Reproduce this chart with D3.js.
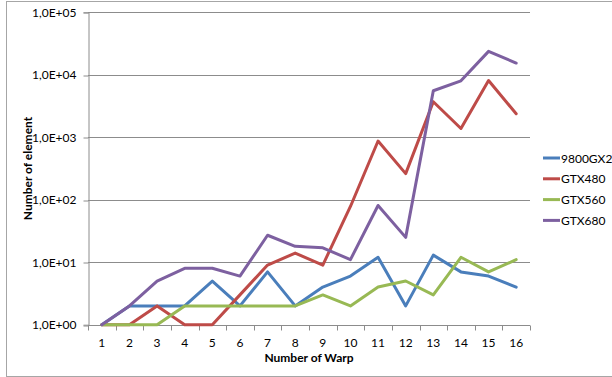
<!DOCTYPE html>
<html>
<head>
<meta charset="utf-8">
<script src="https://cdn.jsdelivr.net/npm/d3@7"></script>
<style>
  html, body { margin: 0; padding: 0; background: #fff; }
  svg { display: block; }
  text { font-family: Lato, "Open Sans", sans-serif; fill: #000; }
</style>
</head>
<body>
<svg id="chart" width="612" height="377"></svg>
<script>
// Warp counts on the x axis
const warps = [1, 2, 3, 4, 5, 6, 7, 8, 9, 10, 11, 12, 13, 14, 15, 16];

// Number of elements per GPU
const gpuNames = ["9800GX2", "GTX480", "GTX560", "GTX680"];
const s9800GX2 = [1, 2, 2, 2, 5, 2, 7, 2, 4, 6, 12, 2, 13, 7, 6, 4];
const sGTX480  = [1, 1, 2, 1, 1, 3, 9, 14, 9, 78, 870, 262, 3700, 1380, 8100, 2380];
const sGTX560  = [1, 1, 1, 2, 2, 2, 2, 2, 3, 2, 4, 5, 3, 12, 7, 11];
const sGTX680  = [1, 2, 5, 8, 8, 6, 27, 18, 17, 11, 81, 25, 5550, 8000, 23700, 15400];
const gpuColors = ["#4A7EBB", "#BE4B48", "#98B954", "#7D60A0"];

// Decade ticks of the log axis
const yTicks = [1, 10, 100, 1000, 10000, 100000];

const seriesList = [s9800GX2, sGTX480, sGTX560, sGTX680].map((vals, i) => ({
  name: gpuNames[i], color: gpuColors[i], values: vals
}));

const svg = d3.select("#chart");
const plot = { left: 88, right: 530, top: 12.3, bottom: 324.7 };

// Chart-area frame
svg.append("rect")
  .attr("x", 6.5).attr("y", 1.5)
  .attr("width", 700).attr("height", 375)
  .attr("fill", "none").attr("stroke", "#a6a6a6").attr("stroke-width", 1);

const x = d3.scaleBand().domain(warps).range([plot.left, plot.right]).padding(0);
const y = d3.scaleLog().domain([1, 1e5]).range([plot.bottom, plot.top]);

const fmt = v => "1,0E+" + String(Math.round(Math.log10(v))).padStart(2, "0");

// Horizontal gridlines
svg.append("g")
  .selectAll("line")
  .data(yTicks.slice(1))
  .join("line")
  .attr("x1", plot.left).attr("x2", plot.right)
  .attr("y1", d => Math.round(y(d)) + 0.5).attr("y2", d => Math.round(y(d)) + 0.5)
  .attr("stroke", "#8c8c8c").attr("stroke-width", 1);

// Y axis
const yAxis = svg.append("g")
  .attr("transform", `translate(${plot.left + 0.5},0)`)
  .call(d3.axisLeft(y).tickValues(yTicks).tickFormat(fmt).tickSize(5).tickPadding(7));
yAxis.select(".domain").attr("stroke", "#8c8c8c");
yAxis.selectAll(".tick line").attr("stroke", "#8c8c8c")
  .attr("transform", d => `translate(0,${Math.round(y(d)) + 0.5 - y(d)})`);
yAxis.selectAll(".tick text")
  .style("font-family", "Lato, 'Open Sans', sans-serif").style("font-size", "12px").attr("fill", "#000");

// X axis with ticks at the category boundaries
const xAxisG = svg.append("g")
  .attr("transform", `translate(0,${Math.round(plot.bottom) + 0.5})`);
xAxisG.append("line")
  .attr("x1", plot.left).attr("x2", plot.right)
  .attr("stroke", "#8c8c8c");
const boundaries = warps.map(w => x(w)).concat([plot.right]);
xAxisG.selectAll("line.tk")
  .data(boundaries)
  .join("line").attr("class", "tk")
  .attr("x1", d => Math.round(d) + 0.5).attr("x2", d => Math.round(d) + 0.5)
  .attr("y1", 0).attr("y2", 5)
  .attr("stroke", "#8c8c8c");
xAxisG.selectAll("text")
  .data(warps)
  .join("text")
  .attr("x", d => x(d) + x.bandwidth() / 2)
  .attr("y", 21)
  .attr("text-anchor", "middle")
  .style("font-size", "12px")
  .text(d => d);

// Series lines
const line = d3.line()
  .x((d, i) => x(warps[i]) + x.bandwidth() / 2)
  .y(d => y(d));

svg.append("g")
  .selectAll("path")
  .data(seriesList)
  .join("path")
  .attr("d", d => line(d.values))
  .attr("fill", "none")
  .attr("stroke", d => d.color)
  .attr("stroke-width", 3)
  .attr("stroke-linejoin", "round")
  .attr("stroke-linecap", "round");

// Axis titles
svg.append("text")
  .attr("x", (plot.left + plot.right) / 2)
  .attr("y", 362)
  .attr("text-anchor", "middle")
  .style("font-size", "12px").style("font-weight", "bold")
  .text("Number of Warp");

svg.append("text")
  .attr("transform", `translate(32,${(plot.top + plot.bottom) / 2}) rotate(-90)`)
  .attr("text-anchor", "middle")
  .style("font-size", "12px").style("font-weight", "bold")
  .text("Number of element");

// Legend
const legend = svg.append("g").attr("transform", "translate(543,158)");
const item = legend.selectAll("g")
  .data(seriesList)
  .join("g")
  .attr("transform", (d, i) => `translate(0,${i * 20.8})`);
item.append("line")
  .attr("x1", 0).attr("x2", 17).attr("y1", 0).attr("y2", 0)
  .attr("stroke", d => d.color).attr("stroke-width", 3);
item.append("text")
  .attr("x", 18).attr("y", 4.5)
  .style("font-size", "12px")
  .text(d => d.name);
</script>
</body>
</html>
